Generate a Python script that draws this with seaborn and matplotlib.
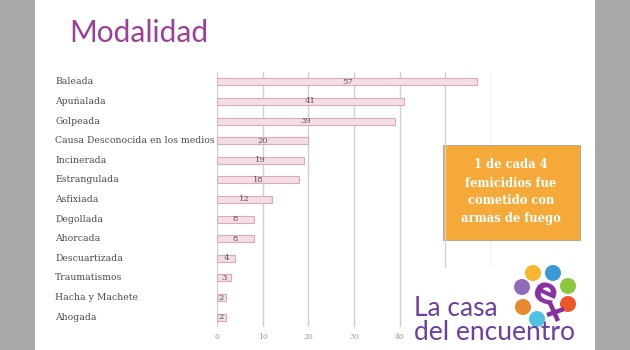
import matplotlib
matplotlib.use("Agg")
import matplotlib.pyplot as plt
import matplotlib.transforms as mtransforms
from matplotlib.patches import Rectangle, Ellipse
from matplotlib.lines import Line2D
import seaborn as sns
import pandas as pd

categories = ["Baleada", "Apuñalada", "Golpeada", "Causa Desconocida en los medios",
              "Incinerada", "Estrangulada", "Asfixiada", "Degollada", "Ahorcada",
              "Descuartizada", "Traumatismos", "Hacha y Machete", "Ahogada"]
values = [57, 41, 39, 20, 19, 18, 12, 8, 8, 4, 3, 2, 2]
x_ticks = [0, 10, 20, 30, 40, 50, 60]
x_tick_labels = ["0", "10", "20", "30", "40", "", ""]
title = "Modalidad"
box_lines = ["1 de cada 4", "femicidios fue", "cometido con", "armas de fuego"]
logo_lines = ["La casa", "del encuentro"]

sns.set_theme(style="white")
W, H = 630, 350
fig = plt.figure(figsize=(W / 100, H / 100), dpi=100)
fig.patch.set_facecolor("white")

def fx(px):
    return px / W

def fy(py):
    return 1 - py / H

# gray side margins
fig.add_artist(Rectangle((0, 0), fx(35), 1, transform=fig.transFigure,
                         facecolor="#a9a9a9", edgecolor="none", zorder=-5))
fig.add_artist(Rectangle((fx(595), 0), fx(35), 1, transform=fig.transFigure,
                         facecolor="#a9a9a9", edgecolor="none", zorder=-5))

# orange box (behind the axes so gridlines pass over it)
fig.add_artist(Rectangle((fx(443), fy(240)), fx(580 - 443), (240 - 145) / H,
                         transform=fig.transFigure, facecolor="#f4a939",
                         edgecolor="#b0a090", lw=0.6, zorder=-2))
for i, line in enumerate(box_lines):
    fig.text(fx(511), fy(165 + i * 18), line, ha="center", va="center",
             color="white", fontsize=8.3, fontweight="bold",
             family="DejaVu Serif", zorder=-1)

df = pd.DataFrame({"cat": categories, "val": values})
ax = fig.add_axes([fx(217), fy(327), fx(491 - 217), (327 - 72) / H])
ax.set_facecolor("none")
sns.barplot(data=df, y="cat", x="val", orient="h", ax=ax, width=0.36,
            color="#f4dde5", edgecolor="#dba9bb", linewidth=0.8, saturation=1)
ax.set_xlim(0, 60)
ax.set_ylim(len(categories) - 0.5, -0.5)
ax.set_xticks(x_ticks)
ax.set_xticklabels(x_tick_labels, fontsize=5.5, color="#999999",
                   family="DejaVu Serif")
ax.tick_params(axis="x", length=0, pad=4)
ax.set_yticks(range(len(categories)))
ax.set_yticklabels([])
ax.tick_params(axis="y", length=0)
ax.set_xlabel("")
ax.set_ylabel("")
for s in ax.spines.values():
    s.set_visible(False)
ax.grid(axis="x", color="#cfcfcf", lw=1.0)
ax.set_axisbelow(True)
for b in ax.patches:
    b.set_zorder(3)

ax.bar_label(ax.containers[0], labels=[str(v) for v in values], label_type="center",
             fontsize=6, color="#555555", family="DejaVu Serif")

# category labels, left aligned
trans = mtransforms.blended_transform_factory(fig.transFigure, ax.transData)
for i, c in enumerate(categories):
    fig.text(fx(55), i, c, transform=trans, ha="left", va="center",
             fontsize=6.7, color="#4a4a4a", family="DejaVu Serif")

# title
fig.text(fx(69), fy(33), title, ha="left", va="center", fontsize=21.5,
         color="#9c3f97", family="Lato")

# logo area (white background hiding the far gridlines)
fig.add_artist(Rectangle((fx(405), 0), fx(590 - 405), 82 / H, transform=fig.transFigure,
                         facecolor="white", edgecolor="none", zorder=4))
fig.text(fx(414), fy(309), logo_lines[0], ha="left", va="center", fontsize=19,
         color="#6c3fa0", family="Lato", zorder=5)
fig.text(fx(414), fy(333), logo_lines[1], ha="left", va="center", fontsize=19,
         color="#6c3fa0", family="Lato", zorder=5)
circles = [((533, 273), "#f8b42c"), ((553, 273), "#3a9ad8"), ((568, 286), "#8dc63f"),
           ((568, 304), "#ee5527"), ((537, 319), "#4ec2de"), ((523, 307), "#e8872c"),
           ((522, 287), "#8e6cb9")]
for (cx, cy), col in circles:
    fig.add_artist(Ellipse((fx(cx), fy(cy)), width=fx(16), height=16 / H,
                           transform=fig.transFigure, facecolor=col,
                           edgecolor="none", zorder=5))
# the "e" with the female symbol
fig.text(fx(545), fy(293), "e", ha="center", va="center", fontsize=26, fontweight="bold",
         color="#86309d", family="DejaVu Sans", rotation=-25, zorder=6)
fig.add_artist(Line2D([fx(550), fx(558)], [fy(303), fy(321)], transform=fig.transFigure,
                      color="#86309d", lw=3.2, solid_capstyle="butt", zorder=6))
fig.add_artist(Line2D([fx(547), fx(564)], [fy(315), fy(309)], transform=fig.transFigure,
                      color="#86309d", lw=3.2, solid_capstyle="butt", zorder=6))

fig.savefig("out.png", dpi=100)
